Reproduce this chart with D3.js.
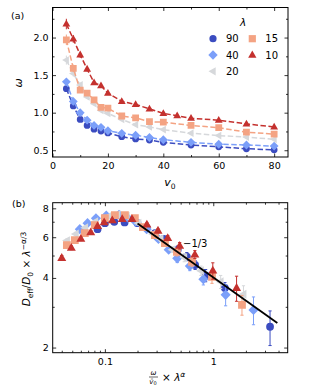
<!DOCTYPE html>
<html>
<head>
<meta charset="utf-8">
<script src="https://cdn.jsdelivr.net/npm/d3@7"></script>
<style>
body{margin:0;background:#fff}
svg{font-family:"DejaVu Sans",sans-serif}
.axis path{display:none}
.axis line{stroke:#000;stroke-width:0.8}
.axis text{font-size:9.5px;fill:#000;font-family:"DejaVu Sans",sans-serif}
</style>
</head>
<body>
<div id="chart"></div>
<script>
// ---- panel (a) data: omega vs v0 ----
let lambdas = ["90","40","20","15","10"];
let v0Short = [5,7.5,10,12.5,15,17.5,20,25,30,35,40,50,60,70,80];
let v0Long = [5,7.5,10,12.5,15,17.5,20,25,30,35,40,45,50,60,70,80];
let omega90 = [1.32,1.09,0.91,0.83,0.78,0.755,0.73,0.68,0.65,0.635,0.605,0.57,0.545,0.52,0.505];
let omega40 = [1.41,1.15,1.0,0.9,0.83,0.805,0.76,0.725,0.70,0.67,0.64,0.605,0.58,0.57,0.555];
let omega20 = [1.70,1.52,1.37,1.21,1.12,1.03,0.99,0.91,0.84,0.81,0.775,0.727,0.695,0.675,0.645];
let omega15 = [1.97,1.59,1.30,1.26,1.17,1.07,1.06,0.956,0.93,0.88,0.873,0.83,0.80,0.74,0.715];
let omega10 = [2.18,1.98,1.77,1.58,1.40,1.36,1.26,1.15,1.11,1.05,0.99,0.96,0.925,0.90,0.85,0.81];
let errA90 = [0.04,0.03,0.02,0.02,0.02,0.02,0.02,0.02,0.01,0.01,0.01,0.01,0.01,0.01,0.01];
let errA40 = [0.04,0.03,0.02,0.02,0.02,0.02,0.02,0.02,0.01,0.01,0.01,0.01,0.01,0.01,0.01];
let errA20 = [0.06,0.04,0.03,0.02,0.02,0.02,0.02,0.02,0.01,0.01,0.01,0.01,0.01,0.01,0.01];
let errA15 = [0.07,0.05,0.03,0.03,0.02,0.02,0.02,0.02,0.02,0.01,0.01,0.01,0.01,0.01,0.01];
let errA10 = [0.07,0.05,0.04,0.03,0.02,0.02,0.02,0.02,0.02,0.01,0.01,0.01,0.01,0.01,0.01,0.01];

// ---- panel (b) data: scaled diffusion vs scaled frequency ----
let xB90 = [0.0856,0.1,0.122,0.152,0.2,0.243,0.29,0.35,0.47,0.57,0.68,0.85,1.28,3.34];
let yB90 = [6.5,6.9,7.0,6.95,6.9,6.6,6.25,5.9,5.3,4.95,4.55,4.1,3.62,2.46];
let eB90 = [0.15,0.1,0.1,0.1,0.1,0.12,0.12,0.15,0.2,0.2,0.2,0.25,0.2,0.42];
let xB40 = [0.0587,0.0692,0.0827,0.103,0.135,0.161,0.192,0.243,0.312,0.388,0.465,0.608,0.81,1.30,2.35];
let yB40 = [6.5,6.9,7.25,7.45,7.5,7.3,7.0,6.5,5.9,5.3,4.86,4.5,3.95,3.38,2.91];
let eB40 = [0.1,0.1,0.1,0.1,0.1,0.1,0.1,0.12,0.15,0.15,0.2,0.2,0.22,0.35,0.4];
let xB20 = [0.0447,0.0539,0.0658,0.0814,0.109,0.131,0.159,0.204,0.277,0.326,0.42,0.54,0.77,1.17,1.9];
let yB20 = [5.8,6.2,6.6,7.0,7.4,7.5,7.4,6.9,6.2,5.9,5.3,4.9,4.3,3.85,3.4];
let eB20 = [0.1,0.1,0.1,0.1,0.1,0.1,0.1,0.12,0.12,0.15,0.15,0.2,0.2,0.25,0.3];
let xB15 = [0.0446,0.0528,0.0653,0.0809,0.1,0.1237,0.153,0.189,0.2244,0.2896,0.358,0.462,0.636,0.973,1.84];
let yB15 = [5.55,5.83,6.25,6.77,7.26,7.48,7.48,7.26,6.64,6.13,5.66,5.18,4.69,4.04,3.06];
let eB15 = [0.1,0.1,0.1,0.1,0.1,0.1,0.1,0.12,0.12,0.15,0.15,0.2,0.2,0.25,0.3];
let xB10 = [0.040,0.049,0.060,0.074,0.0856,0.0985,0.117,0.1445,0.178,0.244,0.309,0.38,0.49,0.676,0.99,1.64];
let yB10 = [4.88,5.4,5.9,6.3,6.7,6.95,7.1,7.19,7.19,6.8,6.4,5.95,5.51,5.05,4.3,3.62];
let eB10 = [0.12,0.1,0.1,0.1,0.1,0.1,0.1,0.1,0.1,0.12,0.12,0.15,0.18,0.2,0.35,0.45];

// fit line D ~ x^(-1/3)
let fitRange = [0.2, 3.9];
let fitPrefactor = 4.02;
let fitExponent = -1/3;

// ---- styles ----
let colors = ["#3b4cc0","#7b9ff9","#d6d8db","#f4a383","#c4312e"];
let shapes = ["circle","diamond","triLeft","square","triUp"];

let seriesA = [
  {v:v0Short, w:omega90, e:errA90},
  {v:v0Short, w:omega40, e:errA40},
  {v:v0Short, w:omega20, e:errA20},
  {v:v0Short, w:omega15, e:errA15},
  {v:v0Long,  w:omega10, e:errA10}
];
let seriesB = [
  {x:xB90, y:yB90, e:eB90},
  {x:xB40, y:yB40, e:eB40},
  {x:xB20, y:yB20, e:eB20},
  {x:xB15, y:yB15, e:eB15},
  {x:xB10, y:yB10, e:eB10}
];

let svg = d3.select("#chart")
  .append("svg")
  .attr("width", 310)
  .attr("height", 390);

function markerPath(shape, s)
{
  switch(shape){
    case "circle": return d3.symbol(d3.symbolCircle, Math.PI*s*s)();
    case "square": return "M"+(-s)+","+(-s)+"H"+s+"V"+s+"H"+(-s)+"Z";
    case "diamond": {let d=s*1.3; return "M0,"+(-d)+"L"+d+",0L0,"+d+"L"+(-d)+",0Z";}
    case "triUp": return "M0,"+(-s*1.25)+"L"+(s*1.15)+","+(s*0.75)+"L"+(-s*1.15)+","+(s*0.75)+"Z";
    case "triLeft": return "M"+(-s*1.25)+",0L"+(s*0.75)+","+(-s*1.15)+"L"+(s*0.75)+","+(s*1.15)+"Z";
  }
}

function drawAxes(g, x, y, w, h, xMajor, xMinor, yMajor, yMinor, xFmt, yFmt)
{
  let maj = 3.5, mnr = 2;
  g.append("g").attr("class","axis").attr("transform","translate(0,"+h+")")
    .call(d3.axisBottom(x).tickValues(xMajor).tickFormat(xFmt).tickSize(-maj).tickPadding(5.5));
  g.append("g").attr("class","axis").attr("transform","translate(0,"+h+")")
    .call(d3.axisBottom(x).tickValues(xMinor).tickFormat("").tickSize(-mnr));
  g.append("g").attr("class","axis")
    .call(d3.axisTop(x).tickValues(xMajor).tickFormat("").tickSize(-maj));
  g.append("g").attr("class","axis")
    .call(d3.axisTop(x).tickValues(xMinor).tickFormat("").tickSize(-mnr));
  g.append("g").attr("class","axis")
    .call(d3.axisLeft(y).tickValues(yMajor).tickFormat(yFmt).tickSize(-maj).tickPadding(4));
  g.append("g").attr("class","axis")
    .call(d3.axisLeft(y).tickValues(yMinor).tickFormat("").tickSize(-mnr));
  g.append("g").attr("class","axis").attr("transform","translate("+w+",0)")
    .call(d3.axisRight(y).tickValues(yMajor).tickFormat("").tickSize(-maj));
  g.append("g").attr("class","axis").attr("transform","translate("+w+",0)")
    .call(d3.axisRight(y).tickValues(yMinor).tickFormat("").tickSize(-mnr));
  g.append("rect").attr("width",w).attr("height",h)
    .attr("fill","none").attr("stroke","#000").attr("stroke-width",1);
}

// ================= panel (a) =================
let aL = 52.5, aT = 7.5, aW = 235.5, aH = 149.5;
let gA = svg.append("g").attr("transform","translate("+aL+","+aT+")");
let xA = d3.scaleLinear().domain([0,85]).range([0,aW]);
let yA = d3.scaleLinear().domain([0.41,2.4]).range([aH,0]);

let clipA = gA.append("clipPath").attr("id","clipA");
clipA.append("rect").attr("width",aW).attr("height",aH);
let plotA = gA.append("g").attr("clip-path","url(#clipA)");

seriesA.forEach(function(s,k){
  let pts = s.v.map(function(v,i){ return [v, s.w[i], s.e[i]]; });
  plotA.append("path")
    .attr("d", d3.line().x(function(d){return xA(d[0]);}).y(function(d){return yA(d[1]);})(pts))
    .attr("fill","none").attr("stroke",colors[k]).attr("stroke-width",1.5)
    .attr("stroke-dasharray","5.5,2.5");
  pts.forEach(function(d){
    plotA.append("line")
      .attr("x1",xA(d[0])).attr("x2",xA(d[0]))
      .attr("y1",yA(d[1]-d[2])).attr("y2",yA(d[1]+d[2]))
      .attr("stroke",colors[k]).attr("stroke-width",1);
    plotA.append("path")
      .attr("d", markerPath(shapes[k], 3.4))
      .attr("transform","translate("+xA(d[0])+","+yA(d[1])+")")
      .attr("fill",colors[k]);
  });
});

drawAxes(gA, xA, yA, aW, aH,
  [0,20,40,60,80], [10,30,50,70],
  [0.5,1.0,1.5,2.0], [0.75,1.25,1.75,2.25],
  d3.format("d"), d3.format(".1f"));

// legend
let legPos = [[213,38.7],[213,55],[213,71.3],[252.3,38.7],[252.3,55]];
svg.append("text").attr("x",243).attr("y",25.5)
  .attr("text-anchor","middle").attr("font-size",10.5).attr("font-style","italic").text("λ");
lambdas.forEach(function(l,k){
  svg.append("path").attr("d", markerPath(shapes[k], 3.6))
    .attr("transform","translate("+legPos[k][0]+","+legPos[k][1]+")")
    .attr("fill",colors[k]);
  svg.append("text").attr("x",legPos[k][0]+13).attr("y",legPos[k][1]+3.6)
    .attr("font-size",10).text(l);
});

svg.append("text").attr("x",11).attr("y",19).attr("font-size",9.5).text("(a)");
svg.append("text").attr("transform","translate(21.5,83) rotate(-90)")
  .attr("text-anchor","middle").attr("font-size",11).attr("font-style","italic").text("ω");
let xlabA = svg.append("text").attr("x",170).attr("y",186).attr("text-anchor","middle").attr("font-size",11);
xlabA.append("tspan").attr("font-style","italic").text("v");
xlabA.append("tspan").attr("font-size",7.5).attr("dy",2.5).text("0");

// ================= panel (b) =================
let bL = 52.7, bT = 202.7, bW = 235, bH = 150;
let gB = svg.append("g").attr("transform","translate("+bL+","+bT+")");
let xB = d3.scaleLog().domain([0.033,4.86]).range([0,bW]);
let yB = d3.scaleLog().domain([1.9,8.46]).range([bH,0]);

let clipB = gB.append("clipPath").attr("id","clipB");
clipB.append("rect").attr("width",bW).attr("height",bH);
let plotB = gB.append("g").attr("clip-path","url(#clipB)");

seriesB.forEach(function(s,k){
  s.x.forEach(function(xv,i){
    let cx = xB(xv), yv = s.y[i], ev = s.e[i];
    let y1 = yB(yv-ev), y2 = yB(yv+ev);
    plotB.append("line").attr("x1",cx).attr("x2",cx).attr("y1",y1).attr("y2",y2)
      .attr("stroke",colors[k]).attr("stroke-width",1);
    [y1,y2].forEach(function(yy){
      plotB.append("line").attr("x1",cx-1.6).attr("x2",cx+1.6).attr("y1",yy).attr("y2",yy)
        .attr("stroke",colors[k]).attr("stroke-width",1);
    });
    plotB.append("path")
      .attr("d", markerPath(shapes[k], 3.9))
      .attr("transform","translate("+cx+","+yB(yv)+")")
      .attr("fill",colors[k]);
  });
});

// power-law guide
let fitPts = fitRange.map(function(xv){ return [xv, fitPrefactor*Math.pow(xv, fitExponent)]; });
plotB.append("path")
  .attr("d", d3.line().x(function(d){return xB(d[0]);}).y(function(d){return yB(d[1]);})(fitPts))
  .attr("stroke","#000").attr("stroke-width",1.8).attr("fill","none");

let xMinorB = [0.04,0.05,0.06,0.07,0.08,0.09,0.2,0.3,0.4,0.5,0.6,0.7,0.8,0.9,2,3,4];
drawAxes(gB, xB, yB, bW, bH,
  [0.1,1], xMinorB,
  [2,4,6,8], [3,5,7],
  function(d){ return d===1 ? "1" : "0.1"; }, d3.format("d"));

svg.append("text").attr("x",183).attr("y",247).attr("font-size",10).text("−1/3");
svg.append("text").attr("x",12).attr("y",207).attr("font-size",9.5).text("(b)");

// y label of (b)
let ylabB = svg.append("text").attr("transform","translate(30,269) rotate(-90)")
  .attr("text-anchor","middle").attr("font-size",10.5);
ylabB.append("tspan").attr("font-style","italic").text("D");
ylabB.append("tspan").attr("font-size",7.5).attr("dy",2.5).text("eff");
ylabB.append("tspan").attr("dy",-2.5).text("/");
ylabB.append("tspan").attr("font-style","italic").text("D");
ylabB.append("tspan").attr("font-size",7.5).attr("dy",2.5).text("0");
ylabB.append("tspan").attr("dy",-2.5).text(" × ");
ylabB.append("tspan").attr("font-style","italic").text("λ");
ylabB.append("tspan").attr("font-size",7.5).attr("dy",-4.5).text("−α/3");

// x label of (b): fraction ω / v̄0 then × λ^α
svg.append("text").attr("x",153.5).attr("y",375).attr("text-anchor","middle")
  .attr("font-size",7).attr("font-style","italic").text("ω");
svg.append("line").attr("x1",149).attr("x2",158).attr("y1",377).attr("y2",377)
  .attr("stroke","#000").attr("stroke-width",0.6);
let vb = svg.append("text").attr("x",153).attr("y",383.5).attr("text-anchor","middle").attr("font-size",7);
vb.append("tspan").attr("font-style","italic").text("v̄");
vb.append("tspan").attr("font-size",5).attr("dy",1.5).text("0");
let xlabB = svg.append("text").attr("x",162).attr("y",381).attr("font-size",10.5);
xlabB.append("tspan").text("× ");
xlabB.append("tspan").attr("font-style","italic").text("λ");
xlabB.append("tspan").attr("font-size",7.5).attr("font-style","italic").attr("dy",-4.5).text("α");
</script>
</body>
</html>
